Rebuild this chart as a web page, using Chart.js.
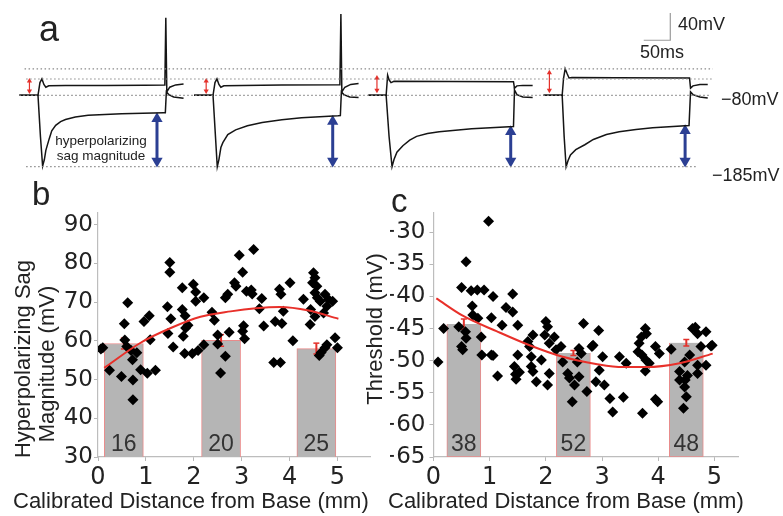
<!DOCTYPE html>
<html>
<head>
<meta charset="utf-8">
<script src="https://cdn.jsdelivr.net/npm/chart.js@4.4.1/dist/chart.umd.min.js"></script>
<style>
  body { margin: 0; background: #fff; }
  #wrap { position: relative; width: 783px; height: 516px; overflow: hidden;
          font-family: "Liberation Sans", Arial, sans-serif; color: #222; }
  canvas { position: absolute; }
  .lbl { position: absolute; white-space: nowrap; line-height: 1; }
  .rot { position: absolute; white-space: nowrap; line-height: 1;
         transform: translate(-50%, -50%) rotate(-90deg); font-size: 22px; }
</style>
</head>
<body>
<div id="wrap">
  <canvas id="traces" width="783" height="180" style="left:0;top:0"></canvas>
  <canvas id="sag" width="390" height="336" style="left:0;top:180px"></canvas>
  <canvas id="thr" width="393" height="336" style="left:390px;top:180px"></canvas>

  <div class="lbl" style="left:39px;top:11px;font-size:36px">a</div>
  <div class="lbl" style="left:32px;top:177px;font-size:33px">b</div>
  <div class="lbl" style="left:391px;top:184px;font-size:33px">c</div>

  <div class="lbl" style="left:678px;top:15px;font-size:18px">40mV</div>
  <div class="lbl" style="left:640px;top:43px;font-size:18px">50ms</div>
  <div class="lbl" style="left:721px;top:90px;font-size:18px">&minus;80mV</div>
  <div class="lbl" style="left:712px;top:166px;font-size:18px">&minus;185mV</div>
  <div class="lbl" style="left:101px;top:133px;font-size:13.5px;line-height:15px;text-align:center;transform:translateX(-50%)">hyperpolarizing<br>sag magnitude</div>

  <div class="lbl" style="left:13px;top:490px;font-size:22px">Calibrated Distance from Base (mm)</div>
  <div class="lbl" style="left:388px;top:490px;font-size:22px">Calibrated Distance from Base (mm)</div>
  <div class="rot" style="left:23.4px;top:358.5px">Hyperpolarizing Sag</div>
  <div class="rot" style="left:46.7px;top:364px">Magnitude (mV)</div>
  <div class="rot" style="left:375.1px;top:329px">Threshold (mV)</div>
</div>

<script>
// ---- panel a: voltage traces, [time (ms), membrane potential (mV)] ----
const trace1Upper = [[24.1,-80],[59.3,-80],[63,-61.3],[66.7,-55.9],[70.4,-64.0],[74.1,-68.1],[79.6,-66.1],[111.1,-65.4],[185.2,-65.4],[259.3,-65.1],[298.2,-64.7],[300,34.2],[301.9,-75.0],[307.4,-68.1],[318.5,-64.7],[333.4,-63.4]];
const trace1Lower = [[24.1,-80],[59.3,-80],[63.9,-140.4],[68,-184.1],[71.3,-174.5],[74.1,-160.9],[80.2,-144.5],[85.2,-132.2],[92.6,-124.1],[101.9,-118.6],[111.1,-115.5],[129.6,-111.8],[153.7,-109.5],[216.7,-107.3],[296.3,-105.6],[299.1,-105.6],[301,-75.0],[305.6,-79.0],[314.8,-82.5],[333.4,-84.5]];
const trace2Upper = [[353.2,-80],[388.9,-80],[392.6,-61.3],[396.3,-55.9],[400,-64.0],[403.7,-68.1],[409.3,-66.1],[444.5,-65.4],[518.6,-64.9],[627.8,-64.4],[629.7,39.6],[631.5,-75.0],[637.1,-68.1],[648.2,-64.0],[663,-62.7]];
const trace2Lower = [[353.2,-80],[388.9,-80],[393.5,-140.4],[396.9,-185.0],[400,-174.5],[403.7,-156.8],[407.4,-149.6],[416.7,-137.7],[431.5,-130.9],[453.7,-124.7],[481.5,-120.0],[518.6,-115.9],[555.6,-113.1],[624.1,-110.0],[628.7,-109.7],[630.6,-75.0],[635.2,-79.0],[646.3,-82.5],[663,-83.1]];
const trace3Upper = [[681.5,-80],[714.9,-80],[717.7,-50.4],[720.4,-57.2],[724.1,-61.3],[729.7,-59.5],[833.4,-59.7],[954.7,-59.9],[956.6,-69.5],[961.2,-66.1],[972.3,-65.4],[990.8,-65.4]];
const trace3Lower = [[681.5,-80],[714.9,-80],[720.4,-140.4],[726,-185.0],[729.7,-174.5],[735.2,-163.6],[746.4,-154.1],[759.3,-145.9],[772.3,-140.4],[792.7,-136.3],[814.9,-133.6],[876,-129.1],[954.7,-125.8],[956.6,-72.2],[961.2,-79.0],[972.3,-82.5],[990.8,-83.1]];
const trace4Upper = [[1011.2,-80],[1046.4,-80],[1049,-55],[1052,-40.9],[1055.6,-48],[1059.3,-54.5],[1064.9,-53.8],[1148.2,-54.1],[1286.2,-54.5],[1288.1,-69.5],[1292.7,-66.1],[1305.7,-64.0],[1320.5,-64.0]];
const trace4Lower = [[1011.2,-80],[1046.4,-80],[1050.1,-140.4],[1053.8,-185.0],[1057.5,-175.9],[1062,-167.7],[1072,-160],[1089,-152.7],[1105.1,-144.9],[1129.7,-137.7],[1153.8,-133.6],[1185.3,-130.2],[1216.8,-127.7],[1285.3,-124.5],[1286.2,-124.5],[1288.1,-75.0],[1292.7,-79.0],[1305.7,-82.5],[1320.5,-84.1]];

// dotted reference levels (mV) and where they run (ms)
const refLevels = [-41, -56, -80, -185];
const refStart  = [34, 37, 24, 37];
const refEnd    = [1330, 1330, 1324, 1300];

// red arrows: time, top, bottom (mV)
const redArrowT   = [43.2, 376, 697.6, 1022.3];
const redArrowTop = [-59.0, -59.0, -54.5, -46.7];
const redArrowBot = [-73.6, -73.6, -72.6, -72.6];
// blue sag-magnitude arrows
const blueArrowT   = [283.4, 614.3, 949.5, 1277.9];
const blueArrowTop = [-114.5, -118.6, -133.6, -132.2];
const blueArrowBot = [-176.8, -176.8, -176.8, -176.8];
// scale bar 50 ms x 40 mV
const scaleBar = [[1200, 1], [1250, 1], [1250, 41]];

// ---- panel b: hyperpolarizing sag magnitude ----
const sagX = [0.06,0.10,0.24,0.49,0.55,0.62,0.56,0.60,0.69,0.72,0.73,0.73,0.81,0.89,0.96,1.03,1.07,1.09,1.20,
  1.45,1.46,1.50,1.50,1.52,1.57,1.76,1.76,1.82,1.83,1.78,1.81,1.88,1.97,1.99,2.04,2.04,2.09,2.21,2.21,2.38,2.43,2.50,2.50,2.56,2.66,2.66,2.71,2.74,
  2.85,2.88,2.95,3.02,3.02,3.04,3.06,3.10,3.20,3.22,3.25,3.37,3.42,3.46,3.67,3.70,3.79,3.81,3.82,3.84,3.87,4.01,4.07,
  4.29,4.43,4.44,4.48,4.50,4.53,4.53,4.53,4.57,4.58,4.64,4.62,4.66,4.71,4.74,4.74,4.78,4.78,4.81,4.90,4.95,5.00];
const sagY = [57.9,58.2,52.4,50.8,64.4,69.8,60.2,58.5,57.5,55.1,49.9,44.8,56.9,52.5,65.0,51.6,66.5,60.3,52.4,
  68.8,61.9,80.2,77.7,65.7,58.4,73.7,68.1,66.5,63.3,61.2,56.7,64.0,56.7,74.6,72.6,70.2,57.5,71.1,59.0,67.4,65.3,61.5,59.2,51.7,56.0,71.1,72.0,62.2,
  75.0,74.1,82.1,77.7,62.5,63.9,60.5,72.8,73.1,72.1,83.6,68.3,70.9,63.8,54.4,65.0,73.3,54.4,72.0,64.5,67.6,75.0,60.0,
  70.7,64.2,68.1,75.0,77.6,76.3,72.4,66.3,74.1,71.1,70.2,56.2,57.0,67.2,72.0,58.2,68.9,59.0,70.7,70.2,60.8,58.2];
const sagFitX = [0.13,0.89,1.52,2.14,2.77,3.30,3.80,4.40,5.02];
const sagFitY = [53.0,59.5,63.3,66.2,67.6,68.4,68.7,67.8,65.7];
const sagBarX = [0.54, 2.57, 4.56];
const sagBarMean = [59.3, 60.1, 58.0];
const sagBarSem = [1.4, 1.5, 1.4];
const sagBarN = [16, 20, 25];
const sagTicks = [30, 40, 50, 60, 70, 80, 90];

// ---- panel c: spike threshold ----
const thrX = [0.08,0.18,0.45,0.50,0.58,0.50,0.52,0.57,0.58,0.67,0.69,0.70,0.78,0.79,0.85,0.86,0.90,0.98,1.03,1.03,1.06,1.06,1.14,1.22,1.29,1.41,1.41,1.44,1.46,1.47,1.50,1.50,1.53,
  1.68,1.71,1.74,1.74,1.77,1.77,1.83,1.92,1.98,2.00,2.03,2.03,2.06,2.06,2.15,2.18,2.27,2.30,2.39,2.42,2.47,2.51,2.56,2.59,2.59,2.63,2.67,2.73,2.82,2.84,2.89,2.94,2.95,3.01,3.04,3.14,3.19,3.31,3.38,3.43,
  3.64,3.66,3.70,3.71,3.72,3.77,3.77,3.78,3.79,3.84,3.95,3.95,4.02,3.99,
  4.23,4.38,4.38,4.45,4.47,4.47,4.48,4.50,4.52,4.56,4.61,4.66,4.70,4.70,4.70,4.76,4.85,4.85,4.94,4.96];
const thrY = [-50.2,-45.0,-44.7,-38.6,-34.6,-47.8,-48.3,-45.5,-46.5,-39.1,-41.5,-42.9,-39.0,-43.4,-46.3,-49.1,-39.0,-28.3,-43.3,-49.1,-40.0,-49.2,-52.4,-44.5,-41.7,-39.6,-42.4,-50.9,-52.1,-52.9,-44.5,-49.1,-51.8,
  -47.0,-47.8,-49.4,-50.9,-46.0,-51.7,-53.3,-49.9,-46.0,-43.9,-44.7,-53.8,-47.3,-52.0,-46.3,-48.3,-47.8,-50.2,-52.0,-52.7,-56.4,-53.8,-50.2,-48.1,-52.5,-48.9,-44.2,-54.8,-47.8,-47.6,-53.3,-45.3,-51.5,-49.4,-53.8,-55.9,-58.0,-49.4,-55.7,-50.4,
  -48.6,-47.3,-46.3,-49.1,-58.2,-45.0,-51.6,-49.9,-45.8,-50.4,-47.8,-56.0,-48.9,-56.4,
  -48.2,-51.7,-53.0,-57.4,-50.2,-54.1,-53.0,-55.6,-52.3,-49.1,-45.0,-44.8,-45.8,-50.7,-52.0,-47.8,-45.5,-50.7,-47.7,-47.6];
const thrFitX = [0.05,0.52,1.12,1.71,2.30,2.89,3.37,3.79,4.38,4.97];
const thrFitY = [-40.3,-43.0,-45.4,-47.6,-49.4,-50.5,-51.0,-51.0,-50.4,-48.9];
const thrBarX = [0.54, 2.49, 4.5];
const thrBarMean = [-44.3, -48.8, -47.2];
const thrBarSem = [0.8, 0.4, 0.5];
const thrBarN = [38, 52, 48];
const thrTicks = [-65, -60, -55, -50, -45, -40, -35, -30];

const FONT = '"Liberation Sans", Arial, sans-serif';
const TICK_FONT = '"DejaVu Sans", "Liberation Sans", sans-serif';
Chart.defaults.font.family = FONT;

const pts = arr => arr.map(p => ({x: p[0], y: p[1]}));
const zip = (xs, ys) => xs.map((x, i) => ({x: x, y: ys[i]}));

function traceLine(data) {
    return { data: pts(data), showLine: true, borderColor: '#151515', borderWidth: 1.5,
             pointRadius: 0, tension: 0 };
}

let traceSets = [];
refLevels.forEach((v, i) => {
    traceSets.push({ data: [{x: refStart[i], y: v}, {x: refEnd[i], y: v}], showLine: true,
        borderColor: '#8a8a8a', borderWidth: 1.2, borderDash: [1.5, 2.5], pointRadius: 0 });
});
[trace1Upper, trace1Lower, trace2Upper, trace2Lower, trace3Upper, trace3Lower, trace4Upper, trace4Lower]
    .forEach(t => traceSets.push(traceLine(t)));
redArrowT.forEach((t, i) => {
    traceSets.push({ data: [{x: t, y: redArrowTop[i]}, {x: t, y: redArrowBot[i]}], showLine: true,
        borderColor: '#e4312b', backgroundColor: '#e4312b', borderWidth: 1.2,
        pointStyle: 'triangle', pointRadius: 3, pointRotation: [0, 180], pointBorderWidth: 0 });
});
blueArrowT.forEach((t, i) => {
    traceSets.push({ data: [{x: t, y: blueArrowTop[i]}, {x: t, y: blueArrowBot[i]}], showLine: true,
        borderColor: '#2b3f93', backgroundColor: '#2b3f93', borderWidth: 3,
        pointStyle: 'triangle', pointRadius: 6.5, pointRotation: [0, 180], pointBorderWidth: 0 });
});
traceSets.push({ data: pts(scaleBar), showLine: true, borderColor: '#9a9a9a', borderWidth: 1.2, pointRadius: 0 });

new Chart(document.getElementById('traces'), {
    type: 'scatter',
    data: { datasets: traceSets },
    options: {
        responsive: false, animation: false, events: [],
        layout: { padding: 0 },
        plugins: { legend: { display: false }, tooltip: { enabled: false } },
        scales: {
            x: { type: 'linear', display: false, min: 0, max: 1450 },
            y: { type: 'linear', display: false, min: -195, max: 50.6 }
        }
    }
});

// counts written at the foot of each bar
function countPlugin(centers, counts) {
    return {
        id: 'counts',
        afterDatasetsDraw(chart) {
            const {ctx, scales: {x, y}} = chart;
            ctx.save();
            ctx.font = '23px ' + FONT;
            ctx.fillStyle = '#333';
            ctx.textAlign = 'center';
            ctx.textBaseline = 'alphabetic';
            centers.forEach((c, i) => ctx.fillText(String(counts[i]), x.getPixelForValue(c), y.bottom - 6));
            ctx.restore();
        }
    };
}

const minus = v => String(v).replace('-', '\u2212');

function panel(canvasId, o) {
    let sets = [
        { type: 'line', data: zip(o.fitX, o.fitY), borderColor: '#e8302a', borderWidth: 2,
          pointRadius: 0, cubicInterpolationMode: 'monotone', order: 0 },
        { data: zip(o.xs, o.ys), pointStyle: 'rectRot', pointRadius: 5.5,
          backgroundColor: '#000', borderColor: '#000', borderWidth: 0, order: 1 }
    ];
    o.barX.forEach((c, i) => {
        sets.push({ data: [{x: c, y: o.mean[i] - o.sem[i]}, {x: c, y: o.mean[i] + o.sem[i]}],
            showLine: true, borderColor: '#e4312b', borderWidth: 2, pointStyle: 'line',
            pointRadius: 3, pointBorderColor: '#e4312b', pointBorderWidth: 1.5, order: 2 });
    });
    sets.push({ type: 'bar', data: o.barX.map((c, i) => ({x: c, y: [o.yMin, o.mean[i]]})),
        backgroundColor: '#b5b5b5', borderColor: '#e98a8a', borderWidth: 1,
        barThickness: o.barPx, order: 3 });

    new Chart(document.getElementById(canvasId), {
        type: 'scatter',
        data: { datasets: sets },
        plugins: [countPlugin(o.barX, o.n)],
        options: {
            responsive: false, animation: false, events: [],
            layout: { padding: { top: 33, right: o.padRight, left: 0, bottom: 0 } },
            plugins: { legend: { display: false }, tooltip: { enabled: false } },
            scales: {
                x: { type: 'linear', min: 0, max: o.xMax, offset: false,
                     afterFit: s => { s.height = 59; },
                     grid: { drawOnChartArea: false, drawTicks: true, tickLength: 4, color: '#b8b8b8', offset: false },
                     border: { color: '#bdbdbd', width: 1.2 },
                     ticks: { stepSize: 1, includeBounds: false, font: { size: 24, family: TICK_FONT },
                              color: '#222', padding: 2 } },
                y: { type: 'linear', min: o.yMin, max: o.yMax,
                     afterFit: s => { s.width = o.axisLeft; },
                     afterBuildTicks: s => { s.ticks = o.ticks.map(v => ({value: v})); },
                     grid: { drawOnChartArea: false, drawTicks: true, tickLength: 4, color: '#b8b8b8' },
                     border: { color: '#bdbdbd', width: 1.2 },
                     ticks: { font: { size: 23, family: TICK_FONT }, color: '#222', padding: o.tickPad,
                              callback: minus } }
            }
        }
    });
}

panel('sag', { xs: sagX, ys: sagY, fitX: sagFitX, fitY: sagFitY, barX: sagBarX, mean: sagBarMean,
    sem: sagBarSem, n: sagBarN, ticks: sagTicks, yMin: 30, yMax: 93, xMax: 5.68,
    axisLeft: 98, padRight: 20, barPx: 39, tickPad: 1 });
panel('thr', { xs: thrX, ys: thrY, fitX: thrFitX, fitY: thrFitY, barX: thrBarX, mean: thrBarMean,
    sem: thrBarSem, n: thrBarN, ticks: thrTicks, yMin: -65, yMax: -27, xMax: 5.42,
    axisLeft: 43.5, padRight: 45, barPx: 34, tickPad: 4 });
</script>
</body>
</html>
